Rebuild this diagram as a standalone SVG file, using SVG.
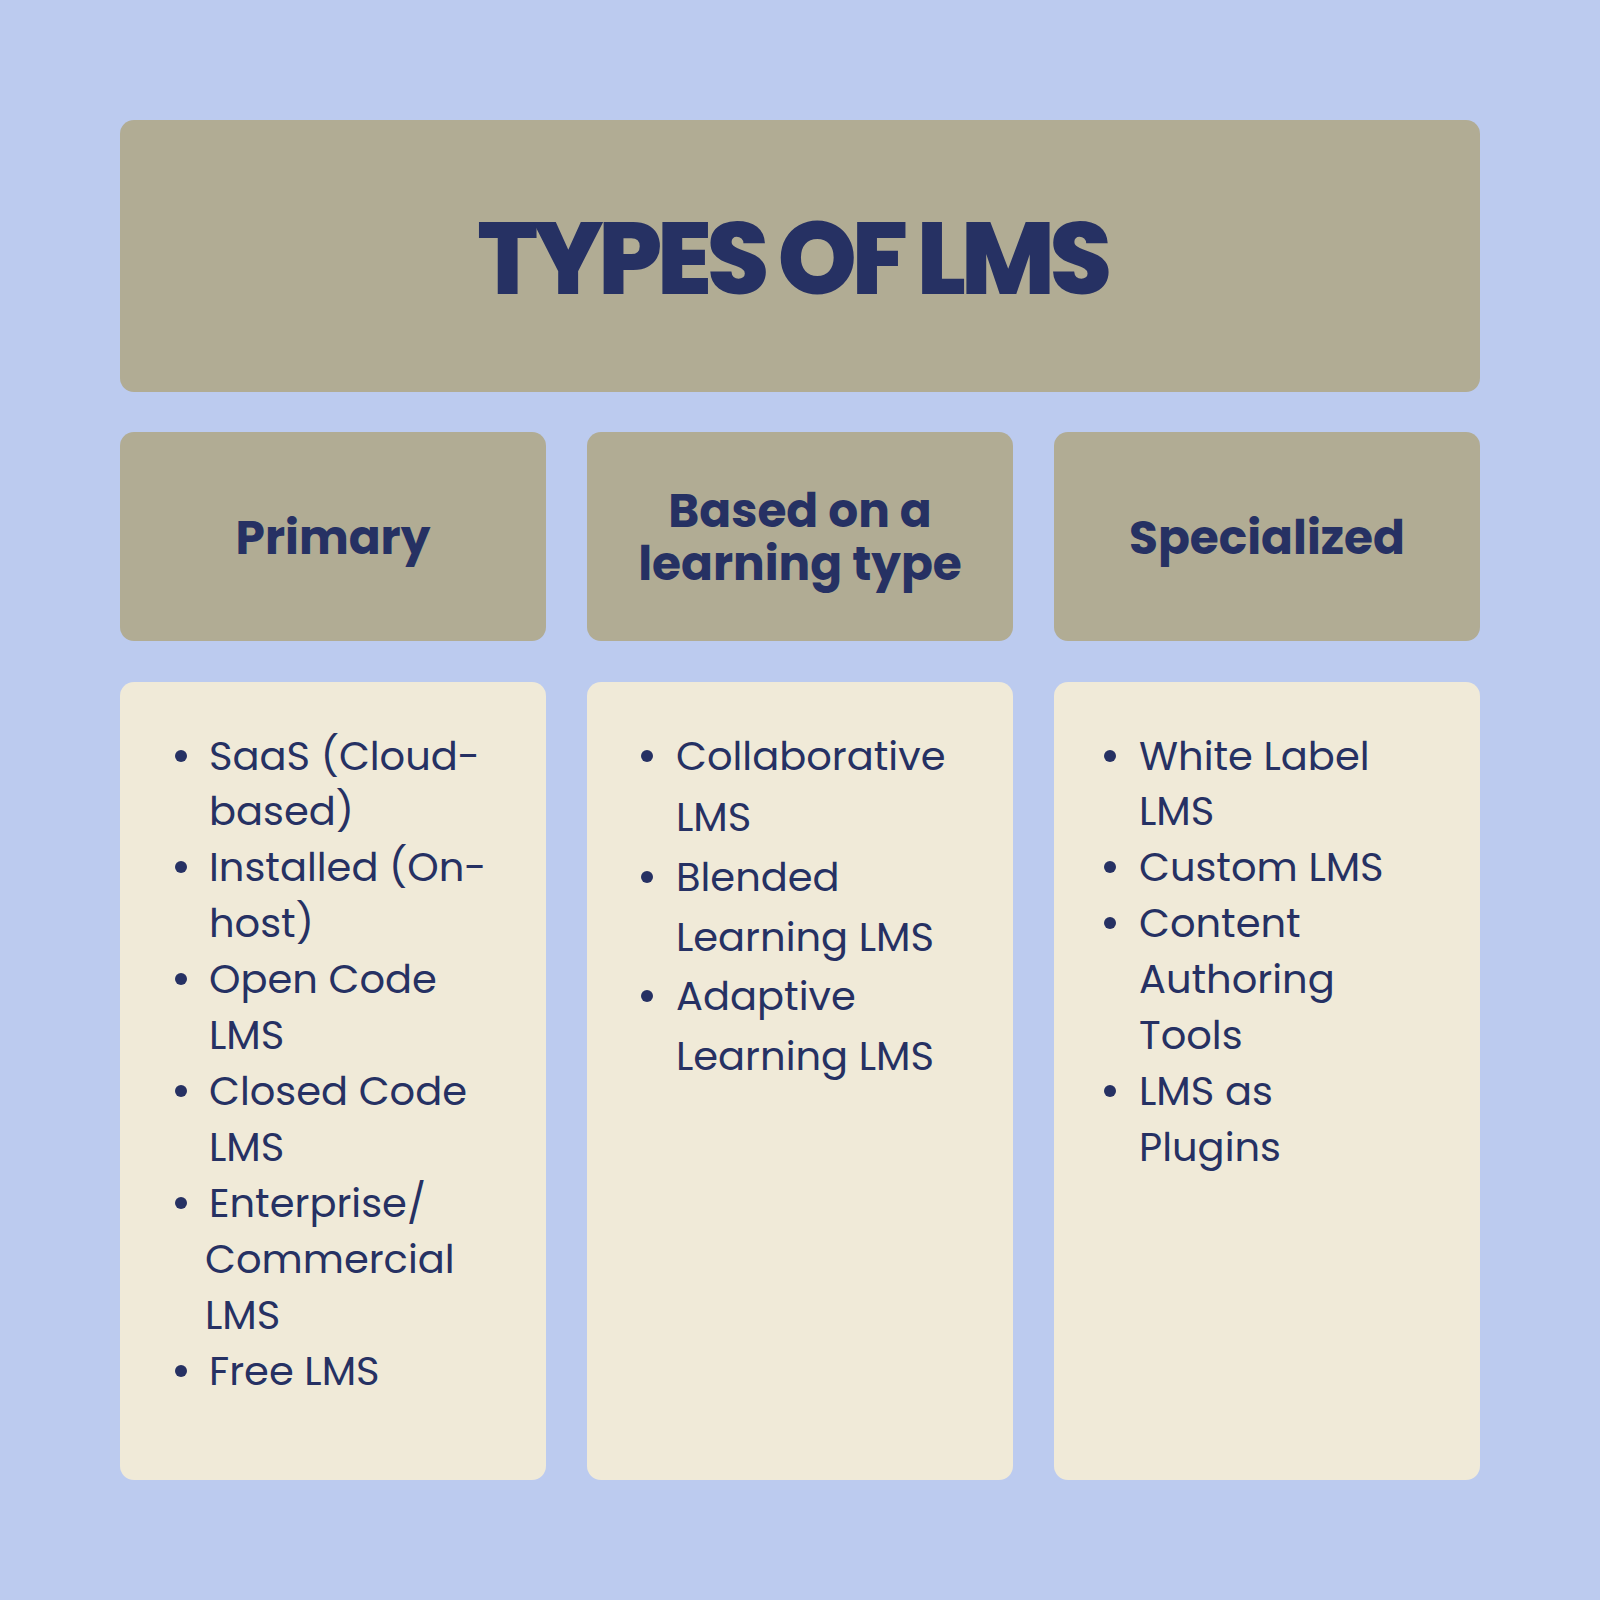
<svg xmlns="http://www.w3.org/2000/svg" width="1600" height="1600" viewBox="0 0 1600 1600">
<style>
.hd{fill:#b1ac94}
.bd{fill:#f0ead8}
text{fill:#263163;font-family:"Poppins","Open Sans","Liberation Sans",sans-serif}
.t{font-size:101px;font-weight:800;text-anchor:middle;letter-spacing:-5.5px}
.h{font-size:47px;font-weight:700;text-anchor:middle}
.i{font-size:40px}
</style>
<rect width="1600" height="1600" fill="#bccbef"/>
<g id="title"><rect class="hd" x="120" y="120" width="1360" height="272" rx="14"/><text class="t" x="792" y="294">TYPES OF LMS</text></g>
<g id="primary-head"><rect class="hd" x="120" y="432" width="426" height="209" rx="14"/><text class="h" x="333" y="554">Primary</text></g>
<g id="learning-head"><rect class="hd" x="587" y="432" width="426" height="209" rx="14"/><text class="h" x="800" y="527">Based on a</text><text class="h" x="800" y="580">learning type</text></g>
<g id="special-head"><rect class="hd" x="1054" y="432" width="426" height="209" rx="14"/><text class="h" x="1267" y="554">Specialized</text></g>
<g id="primary-list"><rect class="bd" x="120" y="682" width="426" height="798" rx="14"/>
<g class="i"><text x="209" y="770">SaaS (Cloud-</text><text x="209" y="825">based)</text><text x="209" y="881">Installed (On-</text><text x="209" y="937">host)</text><text x="209" y="993">Open Code</text><text x="209" y="1049">LMS</text><text x="209" y="1105">Closed Code</text><text x="209" y="1161">LMS</text><text x="209" y="1217">Enterprise/</text><text x="205" y="1273">Commercial</text><text x="205" y="1329">LMS</text><text x="209" y="1385">Free LMS</text></g>
<g fill="#263163"><circle cx="181" cy="756" r="6"/><circle cx="181" cy="867" r="6"/><circle cx="181" cy="979" r="6"/><circle cx="181" cy="1091" r="6"/><circle cx="181" cy="1203" r="6"/><circle cx="181" cy="1371" r="6"/></g></g>
<g id="learning-list"><rect class="bd" x="587" y="682" width="426" height="798" rx="14"/>
<g class="i"><text x="676" y="770">Collaborative</text><text x="676" y="831">LMS</text><text x="676" y="891">Blended</text><text x="676" y="951">Learning LMS</text><text x="676" y="1010">Adaptive</text><text x="676" y="1070">Learning LMS</text></g>
<g fill="#263163"><circle cx="647" cy="756" r="6"/><circle cx="647" cy="877" r="6"/><circle cx="647" cy="996" r="6"/></g></g>
<g id="special-list"><rect class="bd" x="1054" y="682" width="426" height="798" rx="14"/>
<g class="i"><text x="1139" y="770">White Label</text><text x="1139" y="825">LMS</text><text x="1139" y="881">Custom LMS</text><text x="1139" y="937">Content</text><text x="1139" y="993">Authoring</text><text x="1139" y="1049">Tools</text><text x="1139" y="1105">LMS as</text><text x="1139" y="1161">Plugins</text></g>
<g fill="#263163"><circle cx="1110" cy="756" r="6"/><circle cx="1110" cy="867" r="6"/><circle cx="1110" cy="923" r="6"/><circle cx="1110" cy="1091" r="6"/></g></g>
<g id="connectors"/>
</svg>
